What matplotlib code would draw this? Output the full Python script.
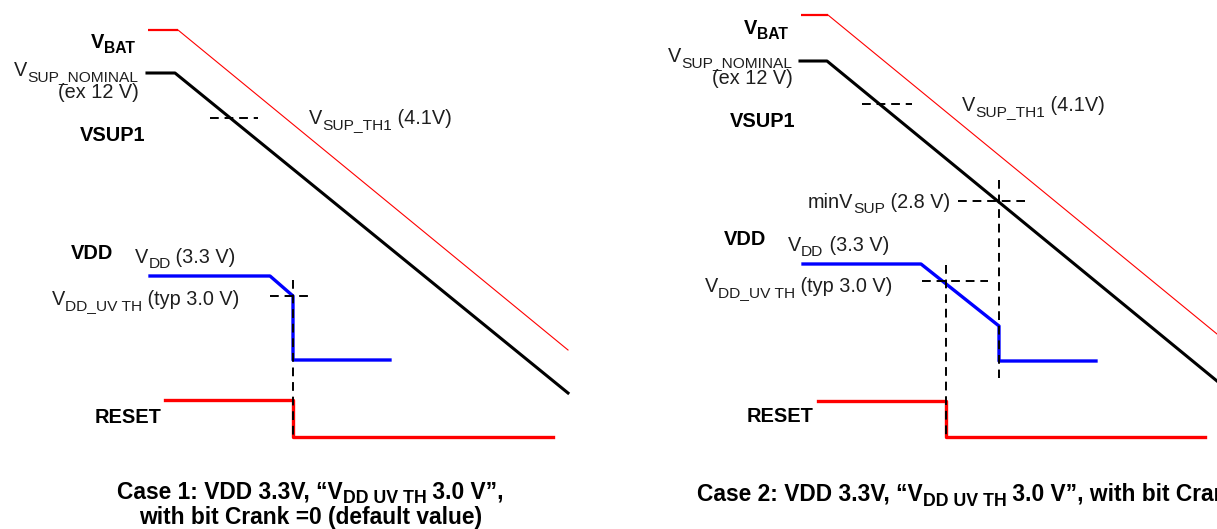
import matplotlib
matplotlib.use('Agg')
import matplotlib.pyplot as plt

plt.rcParams['font.family'] = ['Liberation Sans', 'DejaVu Sans']

### waveform breakpoints (picture pixels, y down)
# case 1
vbat1_x = [148, 178, 568]
vbat1_y = [30, 30, 350]
vsup1_x = [147, 175, 568]
vsup1_y = [73, 73, 393]
vdd1_x = [150, 270, 293, 293, 390]
vdd1_y = [276, 276, 296, 360, 360]
reset1_x = [165, 293, 293, 553]
reset1_y = [400, 400, 437, 437]
# case 2
vbat2_x = [801, 828, 1217]
vbat2_y = [15, 15, 334]
vsup2_x = [800, 827, 1217]
vsup2_y = [61, 61, 381]
vdd2_x = [803, 921, 999, 999, 1096]
vdd2_y = [264, 264, 326, 361, 361]
reset2_x = [818, 946, 946, 1205]
reset2_y = [401, 401, 437, 437]

# dashed marker lines: (x0, x1, y0, y1)
dashes = [
    (210, 258, 118, 118),
    (270, 310, 296, 296),
    (293, 293, 280, 437),
    (862, 912, 104, 104),
    (958, 1025, 201, 201),
    (999, 999, 180, 378),
    (922, 988, 281, 281),
    (946, 946, 265, 437),
]

fig = plt.figure(figsize=(12.17, 5.29), dpi=100)
ax = fig.add_axes([0, 0, 1, 1])
ax.set_xlim(0, 1217)
ax.set_ylim(529, 0)
ax.axis('off')

for vx, vy in [(vbat1_x, vbat1_y), (vbat2_x, vbat2_y)]:
    ax.plot(vx[:2], vy[:2], color='#ff0000', lw=1.6, solid_capstyle='butt')
    ax.plot(vx[1:], vy[1:], color='#ff0000', lw=0.8)
for vx, vy in [(vsup1_x, vsup1_y), (vsup2_x, vsup2_y)]:
    ax.plot(vx, vy, color='black', lw=2.2)
for vx, vy in [(vdd1_x, vdd1_y), (vdd2_x, vdd2_y)]:
    ax.plot(vx, vy, color='#0000ff', lw=2.4)
for vx, vy in [(reset1_x, reset1_y), (reset2_x, reset2_y)]:
    ax.plot(vx, vy, color='#ff0000', lw=2.4)
for x0, x1, y0, y1 in dashes:
    ax.plot([x0, x1], [y0, y1], color='black', lw=1.4, linestyle=(0, (4.5, 3)))

FS = 14.3       # normal labels
BFS = 14.4      # bold labels
CFS = 16.4      # captions
SUB = 0.78      # subscript scale
TC = '#1e1e1e'
renderer = fig.canvas.get_renderer()


def text_w(s, size, weight):
    a = ax.text(0, 0, '|' + s + '|', fontsize=size, weight=weight)
    b = ax.text(0, 0, '||', fontsize=size, weight=weight)
    w = a.get_window_extent(renderer).width - b.get_window_extent(renderer).width
    a.remove()
    b.remove()
    return w


def rich(x, y, parts, size, weight='normal', ha='left', color=TC, drop_f=0.24):
    # parts: list of (string, is_subscript); y is the baseline in pixels
    sizes = [size * SUB if sub else size for s, sub in parts]
    widths = [text_w(s, sz, weight) for (s, sub), sz in zip(parts, sizes)]
    total = sum(widths)
    if ha == 'right':
        x0 = x - total
    elif ha == 'center':
        x0 = x - total / 2.0
    else:
        x0 = x
    cx = x0
    drop = size * 1.389 * drop_f
    for (s, sub), sz, w in zip(parts, sizes, widths):
        ax.text(cx, y + (drop if sub else 0), s, fontsize=sz, weight=weight,
                ha='left', va='baseline', color=color, clip_on=False)
        cx += w
    return x0, x0 + total


N, S = False, True

# case 1 labels
rich(135, 48, [('V', N), ('BAT', S)], BFS, 'bold', 'right', 'black')
rich(138, 76, [('V', N), ('SUP_NOMINAL', S)], FS, ha='right')
rich(139, 98, [('(ex 12 V)', N)], FS, ha='right')
rich(145, 141, [('VSUP1', N)], BFS, 'bold', 'right', 'black')
rich(309, 124, [('V', N), ('SUP_TH1', S), (' (4.1V)', N)], FS)
rich(113, 259, [('VDD', N)], BFS, 'bold', 'right', 'black')
rich(135, 263, [('V', N), ('DD', S), (' (3.3 V)', N)], FS)
rich(52, 305, [('V', N), ('DD_UV TH', S), (' (typ 3.0 V)', N)], FS)
rich(161, 423, [('RESET', N)], BFS, 'bold', 'right', 'black')
c0, c1 = rich(117, 498, [('Case 1: VDD 3.3V, \u201cV', N), ('DD UV TH', S),
                         (' 3.0 V\u201d,', N)], CFS, 'bold', 'left', 'black', 0.2)
rich((c0 + c1) / 2.0, 524, [('with bit Crank =0 (default value)', N)],
     CFS, 'bold', 'center', 'black')

# case 2 labels
rich(788, 34, [('V', N), ('BAT', S)], BFS, 'bold', 'right', 'black')
rich(792, 62, [('V', N), ('SUP_NOMINAL', S)], FS, ha='right')
rich(793, 84, [('(ex 12 V)', N)], FS, ha='right')
rich(795, 127, [('VSUP1', N)], BFS, 'bold', 'right', 'black')
rich(962, 111, [('V', N), ('SUP_TH1', S), (' (4.1V)', N)], FS)
rich(950, 208, [('minV', N), ('SUP', S), (' (2.8 V)', N)], FS, ha='right')
rich(766, 245, [('VDD', N)], BFS, 'bold', 'right', 'black')
rich(788, 251, [('V', N), ('DD', S), (' (3.3 V)', N)], FS)
rich(705, 292, [('V', N), ('DD_UV TH', S), (' (typ 3.0 V)', N)], FS)
rich(813, 422, [('RESET', N)], BFS, 'bold', 'right', 'black')
rich(697, 501, [('Case 2: VDD 3.3V, \u201cV', N), ('DD UV TH', S),
                (' 3.0 V\u201d, with bit Crank =1', N)], CFS, 'bold', 'left', 'black', 0.2)

fig.savefig('out.png', dpi=100)
